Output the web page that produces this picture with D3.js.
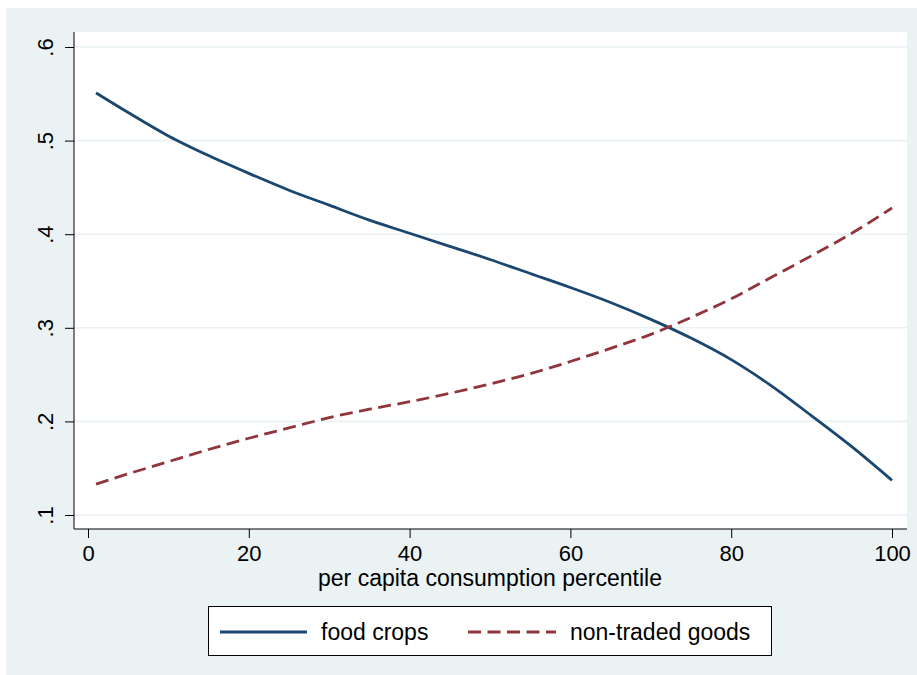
<!DOCTYPE html>
<html>
<head>
<meta charset="utf-8">
<script src="https://cdn.jsdelivr.net/npm/d3@7"></script>
<style>
  html, body { margin: 0; padding: 0; background: #ffffff; }
  svg { display: block; }
  text { font-family: "Liberation Sans", Arial, sans-serif; fill: #000; }
</style>
</head>
<body>
<svg id="chart" width="917" height="675"></svg>
<script>
// ---- data ----
const percentiles = [1, 5, 10, 15, 20, 25, 30, 35, 40, 45, 50, 55, 60, 65, 70, 75, 80, 85, 90, 95, 100];
const foodCrops   = [0.551, 0.530, 0.505, 0.484, 0.465, 0.447, 0.431, 0.415, 0.401, 0.387, 0.373, 0.358, 0.343, 0.327, 0.309, 0.289, 0.266, 0.238, 0.206, 0.173, 0.137];
const nonTraded   = [0.133, 0.144, 0.157, 0.170, 0.182, 0.193, 0.204, 0.213, 0.221, 0.230, 0.240, 0.251, 0.264, 0.278, 0.293, 0.311, 0.331, 0.354, 0.377, 0.401, 0.428];
const xTicks = [0, 20, 40, 60, 80, 100];
const yTicks = [0.1, 0.2, 0.3, 0.4, 0.5, 0.6];
const yTickLabels = [".1", ".2", ".3", ".4", ".5", ".6"];
const seriesNames = ["food crops", "non-traded goods"];
const xTitle = "per capita consumption percentile";

// ---- layout ----
const svg = d3.select("#chart");
const bg = "#eaf2f3";
const blue = "#1a476f";
const red = "#90353b";
const plot = { left: 74, right: 907, top: 32, bottom: 529 };

const x = d3.scaleLinear().domain([0, 100]).range([88, 892]);
const y = d3.scaleLinear().domain([0.1, 0.6]).range([515, 47]);

// outer background
svg.append("rect").attr("x", 6).attr("y", 8).attr("width", 917 - 6).attr("height", 675 - 8).attr("fill", bg);
// plot region
svg.append("rect").attr("x", plot.left).attr("y", plot.top)
  .attr("width", plot.right - plot.left).attr("height", plot.bottom - plot.top).attr("fill", "#ffffff");

// gridlines
svg.append("g").selectAll("line").data(yTicks).join("line")
  .attr("x1", plot.left).attr("x2", plot.right)
  .attr("y1", d => y(d)).attr("y2", d => y(d))
  .attr("stroke", bg).attr("stroke-width", 1.6);

// y axis
const yAxis = d3.axisLeft(y).tickValues(yTicks).tickSize(9).tickFormat((d, i) => yTickLabels[i]);
const gy = svg.append("g").attr("transform", `translate(${plot.left},0)`).call(yAxis);
gy.select(".domain").attr("d", `M0,${plot.top}V${plot.bottom}`).attr("stroke", "#000").attr("stroke-width", 1);
gy.selectAll(".tick line").attr("stroke", "#000");
gy.selectAll(".tick text")
  .attr("x", 0).attr("dy", null).attr("y", 0)
  .attr("transform", "translate(-21,0) rotate(-90)")
  .attr("text-anchor", "middle")
  .style("font-size", "22px").style("font-family", "'Liberation Sans', Arial, sans-serif");

// x axis
const xAxis = d3.axisBottom(x).tickValues(xTicks).tickSize(9).tickFormat(d3.format("d"));
const gx = svg.append("g").attr("transform", `translate(0,${plot.bottom})`).call(xAxis);
gx.select(".domain").attr("d", `M${plot.left},0H${plot.right}`).attr("stroke", "#000").attr("stroke-width", 1);
gx.selectAll(".tick line").attr("stroke", "#000");
gx.selectAll(".tick text").attr("y", 32).attr("dy", null)
  .style("font-size", "22px").style("font-family", "'Liberation Sans', Arial, sans-serif");

// axis title
svg.append("text").attr("x", (x(0) + x(100)) / 2).attr("y", 586)
  .attr("text-anchor", "middle").style("font-size", "23px").text(xTitle);

// lines
const line = d3.line().x((d, i) => x(percentiles[i])).y(d => y(d)).curve(d3.curveMonotoneX);
svg.append("path").datum(foodCrops).attr("d", line)
  .attr("fill", "none").attr("stroke", blue).attr("stroke-width", 2.8);
svg.append("path").datum(nonTraded).attr("d", line)
  .attr("fill", "none").attr("stroke", red).attr("stroke-width", 2.8)
  .attr("stroke-dasharray", "13,6.5");

// legend
const lg = svg.append("g");
lg.append("rect").attr("x", 208.5).attr("y", 606.5).attr("width", 563).attr("height", 49)
  .attr("fill", "#fff").attr("stroke", "#000").attr("stroke-width", 1);
lg.append("line").attr("x1", 220).attr("x2", 307).attr("y1", 632).attr("y2", 632)
  .attr("stroke", blue).attr("stroke-width", 2.8);
lg.append("text").attr("x", 321).attr("y", 640).style("font-size", "23px").text(seriesNames[0]);
lg.append("line").attr("x1", 468).attr("x2", 556).attr("y1", 632).attr("y2", 632)
  .attr("stroke", red).attr("stroke-width", 2.8).attr("stroke-dasharray", "13,6.5");
lg.append("text").attr("x", 570).attr("y", 640).style("font-size", "23px").text(seriesNames[1]);
</script>
</body>
</html>
